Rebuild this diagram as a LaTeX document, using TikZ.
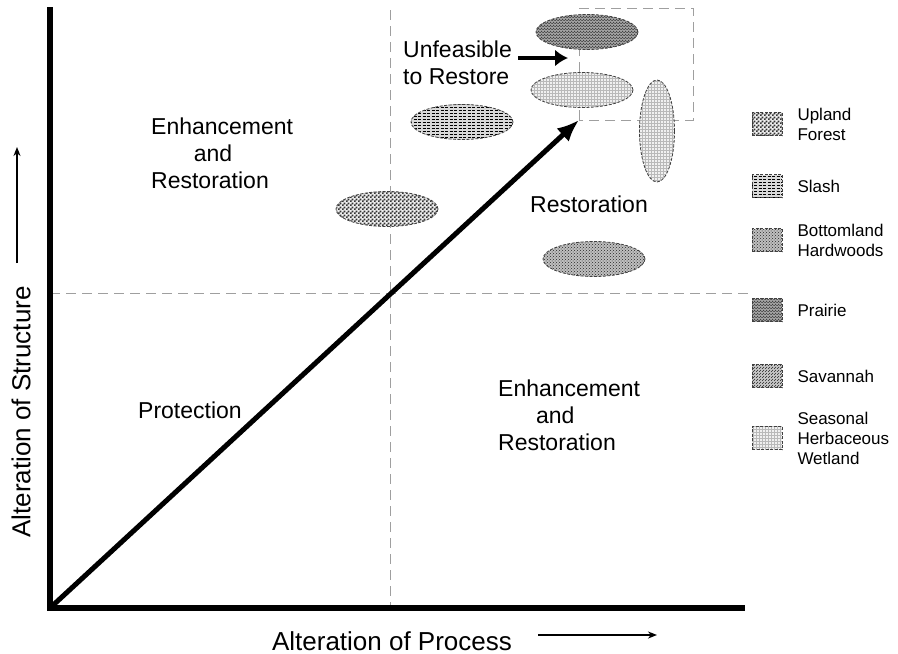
\documentclass[tikz,border=0pt]{standalone}
\usepackage{fontspec}
\setmainfont{Liberation Sans}
\usetikzlibrary{arrows.meta,positioning,patterns,shapes.geometric}

\pgfdeclarepatternformonly{finechecker}{\pgfpointorigin}{\pgfqpoint{3.6pt}{3.6pt}}{\pgfqpoint{3.6pt}{3.6pt}}{
  \pgfpathrectangle{\pgfpointorigin}{\pgfqpoint{1.8pt}{1.8pt}}
  \pgfpathrectangle{\pgfqpoint{1.8pt}{1.8pt}}{\pgfqpoint{1.8pt}{1.8pt}}
  \pgfusepath{fill}}

\tikzset{
  axis/.style={line width=6pt},
  divider/.style={gray!75, line width=0.8pt, dash pattern=on 10pt off 6pt},
  region/.style={font=\fontsize{23}{27}\selectfont, align=left, inner sep=0pt},
  axislabel/.style={font=\fontsize{26}{30}\selectfont, inner sep=0pt},
  legtext/.style={font=\fontsize{17}{20}\selectfont, align=left, inner sep=0pt},
  habitat/.style={ellipse, draw=gray!50!black, line width=0.8pt, dash pattern=on 3pt off 1.5pt,
    minimum width=102pt, minimum height=35pt, inner sep=0pt},
  swatch/.style={rectangle, draw=gray!50!black, line width=0.6pt, dash pattern=on 3pt off 1.5pt,
    minimum width=30pt, minimum height=23pt, inner sep=0pt},
  upland/.style={preaction={fill=gray!15}, pattern=finechecker, pattern color=black!80},
  slash/.style={preaction={fill=gray!30}, pattern=horizontal lines, pattern color=black},
  bottomland/.style={preaction={fill=gray!50}, pattern=crosshatch dots, pattern color=black!85},
  prairie/.style={preaction={fill=gray!65}, pattern=crosshatch, pattern color=black!75},
  savannah/.style={preaction={fill=gray!40}, pattern=north east lines, pattern color=black!85},
  wetland/.style={preaction={fill=gray!12}, pattern=grid, pattern color=gray!55},
  bigarrow/.style={line width=5pt, -{Latex[length=22pt,width=18pt]}},
  midarrow/.style={line width=4.5pt, -{Latex[length=13pt,width=17pt]}},
  thinarrow/.style={line width=1.5pt, -{Stealth[length=9pt,width=7pt]}}
}

\begin{document}
\begin{tikzpicture}[x=1pt, y=-1pt]
  \useasboundingbox (0,0) rectangle (898,654);

  \coordinate (origin) at (50,608);
  \coordinate (ytop) at (50,7);
  \coordinate (xend) at (745,608);
  \coordinate (vtop) at (390,10);
  \coordinate (vbot) at (390,608);
  \coordinate (hleft) at (50,293);
  \coordinate (hright) at (752,293);
  \coordinate (corner) at (579,120);
  \coordinate (boxtop) at (693,8);

  \draw[divider] (vtop) -- (vbot);
  \draw[divider] (hleft) -- (hright);
  \draw[divider] (corner) rectangle (boxtop);

  \node[habitat, prairie] (prairieE) at (587,32) {};
  \node[habitat, wetland] (wetlandE) at (582,90) {};
  \node[habitat, wetland, minimum width=35pt, minimum height=102pt] (wetlandV) at (657,131) {};
  \node[habitat, slash] (slashE) at (462,122) {};
  \node[habitat, upland] (uplandE) at (387,209) {};
  \node[habitat, bottomland] (bottomE) at (594,259) {};

  \draw[axis] (ytop) -- (origin) -- (xend);
  \draw[bigarrow] (origin) -- (corner);

  \node[region, anchor=north west] (enhtop) at (151,118) {Enhancement\\\hspace*{1.85em}and\\Restoration};
  \node[region, anchor=north west] (enhbot) at (498,380) {Enhancement\\\hspace*{1.65em}and\\Restoration};
  \node[region] (restore) at (589,204) {Restoration};
  \node[region, anchor=west] (protect) at (138,410) {Protection};
  \node[region, anchor=north west] (unfeas) at (403,41) {Unfeasible\\to Restore};

  \coordinate (blocked) at (568,58);
  \draw[midarrow] (unfeas.east |- blocked) ++(6,0) -- (blocked);

  \node[axislabel] (xlab) at (392,641) {Alteration of Process};
  \node[axislabel, rotate=90] (ylab) at (21,412) {Alteration of Structure};
  \coordinate (xtail) at (538,635);
  \coordinate (xtip) at (657,635);
  \coordinate (ytail) at (17,263);
  \coordinate (ytip) at (17,147);
  \draw[thinarrow] (xtail) -- (xtip);
  \draw[thinarrow] (ytail) -- (ytip);

  \node[swatch, upland] (uplandS) at (767,124) {};
  \node[swatch, slash] (slashS) at (767,186) {};
  \node[swatch, bottomland] (bottomS) at (767,240) {};
  \node[swatch, prairie] (prairieS) at (767,310) {};
  \node[swatch, savannah] (savannahS) at (767,376) {};
  \node[swatch, wetland] (wetlandS) at (767,438) {};

  \node[legtext, right=15pt of uplandS] (uplandT) {Upland\\Forest};
  \node[legtext, right=15pt of slashS] (slashT) {Slash};
  \node[legtext, right=15pt of bottomS] (bottomT) {Bottomland\\Hardwoods};
  \node[legtext, right=15pt of prairieS] (prairieT) {Prairie};
  \node[legtext, right=15pt of savannahS] (savannahT) {Savannah};
  \node[legtext, right=15pt of wetlandS] (wetlandT) {Seasonal\\Herbaceous\\Wetland};
\end{tikzpicture}
\end{document}
